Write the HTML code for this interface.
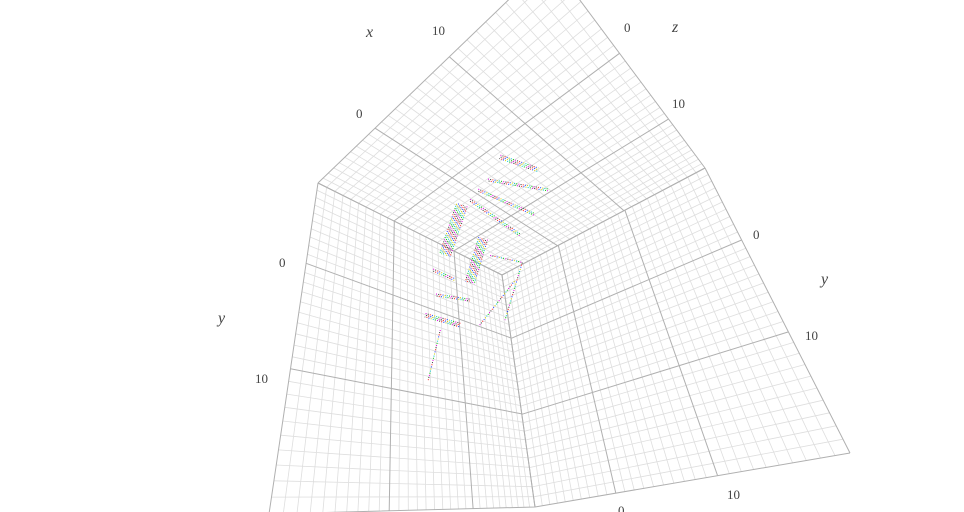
<!DOCTYPE html>
<html><head><meta charset="utf-8"><style>
html,body{margin:0;padding:0;background:#fff;}
svg{display:block;}
text{font-family:"Liberation Serif",serif;fill:#444;}
</style></head><body>
<svg id="chart" width="964" height="512" viewBox="0 0 964 512">
<g id="grid"></g>
<g id="pts"></g>
<g>
<text x="366" y="37" font-size="16" font-style="italic">x</text>
<text x="432" y="35" font-size="13">10</text>
<text x="356" y="118" font-size="13">0</text>
<text x="624" y="32" font-size="13">0</text>
<text x="672" y="32" font-size="16" font-style="italic">z</text>
<text x="672" y="108" font-size="13">10</text>
<text x="753" y="239" font-size="13">0</text>
<text x="821" y="284" font-size="16" font-style="italic">y</text>
<text x="805" y="340" font-size="13">10</text>
<text x="279" y="267" font-size="13">0</text>
<text x="218" y="323" font-size="16" font-style="italic">y</text>
<text x="255" y="383" font-size="13">10</text>
<text x="727" y="499" font-size="13">10</text>
<text x="618" y="515" font-size="13">0</text>
</g>
</svg>
<script>
// streak data in cube coordinates (a along x-axis, c along y-axis)
const streakA = [
  [-0.26,-0.90],[0.01,-1.03],[0.21,-0.73],[0.38,-0.42],[0.53,0.96],[0.24,0.59],
  [1.21,0.84],[1.22,0.63],[1.46,0.87],[1.23,1.57],[0.16,-0.39,0.06],[0.52,-0.22]
];
const streakC = [
  [-1.64,-1.73],[-1.23,-1.52],[-1.02,-1.08],[-0.82,-0.69],[-0.70,0.13],[-0.38,0.34],
  [0.42,0.40],[0.75,0.58],[1.11,1.00],[1.21,2.00],[-0.19,-0.32,0.61],[0.86,-0.02]
];
const streakLanes = [3,2,2,2,7,6,2,2,3,1,1,1];
const dotColors = ["#e000e0","#00c000","#00c8c8","#d0d000","#2040ff","#ff2020","#333"];

const NS="http://www.w3.org/2000/svg";
const C=[502,275],L=[318,183],R=[705,168],T=[550,-40],B=[535,507],BL=[269,514],BR=[850,453];
function homog(p0,p1,p2,p3){
  const [x0,y0]=p0,[x1,y1]=p1,[x2,y2]=p2,[x3,y3]=p3;
  const dx1=x1-x2,dx2=x3-x2,dx3=x0-x1+x2-x3,dy1=y1-y2,dy2=y3-y2,dy3=y0-y1+y2-y3;
  const den=dx1*dy2-dx2*dy1;
  const g=(dx3*dy2-dx2*dy3)/den,h=(dx1*dy3-dx3*dy1)/den;
  const a=x1-x0+g*x1,b=x3-x0+h*x3,d=y1-y0+g*y1,e=y3-y0+h*y3;
  return (u,v)=>{const w=g*u+h*v+1;return [(a*u+b*v+x0)/w,(d*u+e*v+y0)/w];};
}
const faces=[["top-wall",homog(C,R,T,L)],["left-wall",homog(C,L,BL,B)],["right-wall",homog(C,R,BR,B)]];
const grid=document.getElementById('grid');
faces.forEach(([name,f])=>{
  const g=document.createElementNS(NS,'g');
  
  
  const minor=[],major=[];
  for(let i=0;i<=30;i++){
    const t=i/30;
    const l1=[f(t,0),f(t,1)],l2=[f(0,t),f(1,t)];
    (i%10===0?major:minor).push(l1,l2);
  }
  [[minor,"#dedede",0.8],[major,"#b0b0b0",1]].forEach(([ls,col,w])=>{
    const p=document.createElementNS(NS,'path');
    
    
    p.setAttribute('d',ls.map(l=>`M${l[0][0].toFixed(1)},${l[0][1].toFixed(1)}L${l[1][0].toFixed(1)},${l[1][1].toFixed(1)}`).join(''));
    p.setAttribute('stroke',col);p.setAttribute('stroke-width',w);p.setAttribute('fill','none');
    g.appendChild(p);
  });
  grid.appendChild(g);
});
const ea=[-61,-31],ec=[11,77];
function proj(a,c){return [C[0]+a*ea[0]+c*ec[0],C[1]+a*ea[1]+c*ec[1]];}
const pts=document.getElementById('pts');
streakA.forEach((as,si)=>{
  const P=as.map((a,k)=>proj(a,streakC[si][k]));
  const dx=P[P.length-1][0]-P[0][0],dy=P[P.length-1][1]-P[0][1],len=Math.hypot(dx,dy)||1;
  const nx=-dy/len,ny=dx/len;
  const g=document.createElementNS(NS,'g');
  
  
  const n=streakLanes[si];
  for(let k=0;k<n;k++){
    const off=(k-(n-1)/2)*1.8;
    const d=P.map((p,j)=>(j?'L':'M')+(p[0]+nx*off).toFixed(1)+','+(p[1]+ny*off).toFixed(1)).join('');
    dotColors.forEach((col,ci)=>{
      const p=document.createElementNS(NS,'path');
      
      
      p.setAttribute('d',d);p.setAttribute('fill','none');p.setAttribute('stroke',col);
      p.setAttribute('stroke-width','1');
      p.setAttribute('stroke-dasharray','1 '+(dotColors.length*2.2-1).toFixed(1));
      p.setAttribute('stroke-dashoffset',(ci*2.2+k*1.3).toFixed(1));
      g.appendChild(p);
    });
  }
  pts.appendChild(g);
});
</script>
</body></html>
